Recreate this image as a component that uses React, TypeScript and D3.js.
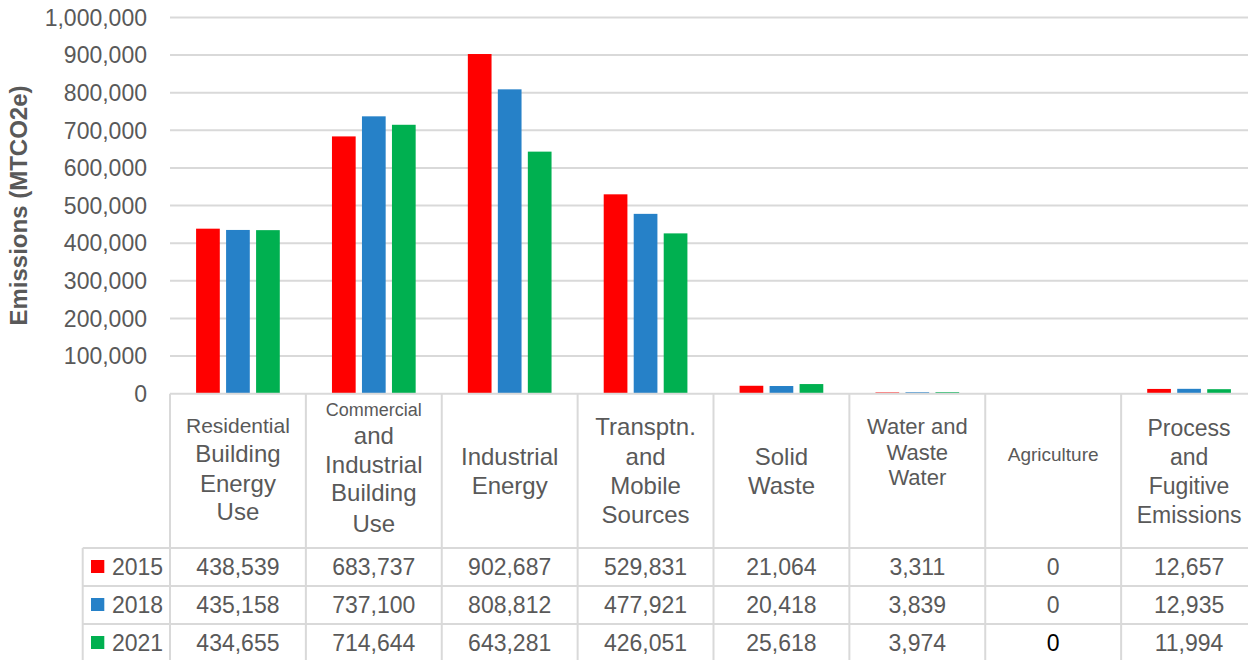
import React from "react";
import * as d3 from "d3";

const categories = [
  "Residential Building Energy Use",
  "Commercial and Industrial Building Use",
  "Industrial Energy",
  "Transptn. and Mobile Sources",
  "Solid Waste",
  "Water and Waste Water",
  "Agriculture",
  "Process and Fugitive Emissions",
];

const categoryLines = [
  ["Residential", "Building", "Energy", "Use"],
  ["Commercial", "and", "Industrial", "Building", "Use"],
  ["Industrial", "Energy"],
  ["Transptn.", "and", "Mobile", "Sources"],
  ["Solid", "Waste"],
  ["Water and", "Waste", "Water"],
  ["Agriculture"],
  ["Process", "and", "Fugitive", "Emissions"],
];

const years = ["2015", "2018", "2021"];

const values2015 = [438539, 683737, 902687, 529831, 21064, 3311, 0, 12657];
const values2018 = [435158, 737100, 808812, 477921, 20418, 3839, 0, 12935];
const values2021 = [434655, 714644, 643281, 426051, 25618, 3974, 0, 11994];

const yTicks = [0, 100000, 200000, 300000, 400000, 500000, 600000, 700000, 800000, 900000, 1000000];

const yAxisTitle = "Emissions (MTCO2e)";

// ---- styling / layout (not data) ----
const W = 1248;
const H = 660;
const COLORS = ["#FF0000", "#2681C8", "#00B050"];
const TEXT = "#595959";
const GRID = "#D9D9D9";
const FONT = "'Liberation Sans', Arial, sans-serif";

// per-column header line sizes and baselines
const headerLayout: { size: number; y: number }[][] = [
  [{ size: 21, y: 433 }, { size: 24, y: 462 }, { size: 24, y: 491.5 }, { size: 24, y: 520 }],
  [{ size: 18, y: 416 }, { size: 24, y: 443.5 }, { size: 24, y: 473 }, { size: 24, y: 500.5 }, { size: 24, y: 531.5 }],
  [{ size: 24, y: 465 }, { size: 24, y: 493.5 }],
  [{ size: 24, y: 435 }, { size: 24, y: 464.5 }, { size: 24, y: 493.5 }, { size: 24, y: 523 }],
  [{ size: 24, y: 465 }, { size: 24, y: 493.5 }],
  [{ size: 22, y: 433.5 }, { size: 22, y: 459.5 }, { size: 22, y: 485 }],
  [{ size: 19, y: 460.5 }],
  [{ size: 23, y: 436 }, { size: 23, y: 465 }, { size: 23, y: 493.5 }, { size: 23, y: 523 }],
];

export default function App() {
  const series = [values2015, values2018, values2021];

  const plotLeft = 170;
  const plotRight = 1257;
  const yZero = 393.7;
  const yTop = 17.4;

  const x = d3.scaleBand<string>().domain(categories).range([plotLeft, plotRight]).paddingInner(0).paddingOuter(0);
  const groupW = 83.7;
  const x1 = d3.scaleBand<string>().domain(years).range([0, groupW]).paddingInner(0.21).paddingOuter(0);
  const groupOffset = (x.bandwidth() - groupW) / 2;
  const y = d3.scaleLinear().domain([0, 1000000]).range([yZero, yTop]);
  const fmt = d3.format(",");

  const headerTop = yZero;
  const rowTops = [548, 586, 624];
  const rowH = 37.8;
  const legendLeft = 82.7;

  const boundaries = categories.map((c) => x(c) as number).concat([plotRight]);

  return (
    <svg
      width={W}
      height={H}
      style={{ position: "absolute", left: 0, top: 0, background: "#fff" }}
      fontFamily={FONT}
    >
      <rect x={0} y={0} width={W} height={H} fill="#fff" />
      {/* gridlines */}
      {yTicks.filter((t) => t > 0).map((t) => (
        <line key={t} x1={plotLeft} x2={plotRight} y1={y(t)} y2={y(t)} stroke={GRID} strokeWidth={2} />
      ))}
      {/* y tick labels */}
      {yTicks.map((t) => (
        <text key={t} x={147} y={y(t)} dy="0.36em" textAnchor="end" fontSize={23} fill={TEXT}>
          {fmt(t)}
        </text>
      ))}
      {/* axis title */}
      <text
        transform={`translate(${27},${(yZero + yTop) / 2}) rotate(-90)`}
        textAnchor="middle"
        fontSize={24}
        fontWeight="bold"
        fill={TEXT}
      >
        {yAxisTitle}
      </text>
      {/* bars */}
      {series.map((vals, si) =>
        vals.map((v, ci) => {
          const bx = (x(categories[ci]) as number) + groupOffset + (x1(years[si]) as number);
          return (
            <rect
              key={`${si}-${ci}`}
              x={bx}
              y={y(v)}
              width={x1.bandwidth()}
              height={yZero - y(v)}
              fill={COLORS[si]}
            />
          );
        })
      )}
      {/* table grid */}
      <line x1={plotLeft} x2={plotRight} y1={headerTop} y2={headerTop} stroke={GRID} strokeWidth={2} />
      {rowTops.map((r) => (
        <line key={r} x1={legendLeft} x2={plotRight} y1={r} y2={r} stroke={GRID} strokeWidth={2} />
      ))}
      <line x1={legendLeft} x2={legendLeft} y1={rowTops[0]} y2={H} stroke={GRID} strokeWidth={2} />
      {boundaries.map((b, i) => (
        <line key={i} x1={b} x2={b} y1={headerTop} y2={H} stroke={GRID} strokeWidth={2} />
      ))}
      {/* header labels */}
      {categoryLines.map((lines, ci) => {
        const cx = (x(categories[ci]) as number) + x.bandwidth() / 2;
        return lines.map((ln, li) => (
          <text
            key={`${ci}-${li}`}
            x={cx}
            y={headerLayout[ci][li].y}
            textAnchor="middle"
            fontSize={headerLayout[ci][li].size}
            fill={TEXT}
          >
            {ln}
          </text>
        ));
      })}
      {/* legend + values */}
      {years.map((yr, si) => (
        <g key={yr}>
          <rect x={91} y={rowTops[si] + 12} width={13.3} height={13} fill={COLORS[si]} />
          <text x={112} y={rowTops[si] + 27} fontSize={23} fill={TEXT}>
            {yr}
          </text>
          {series[si].map((v, ci) => (
            <text
              key={ci}
              x={(x(categories[ci]) as number) + x.bandwidth() / 2}
              y={rowTops[si] + 27}
              textAnchor="middle"
              fontSize={23}
              fill={si === 2 && categories[ci] === "Agriculture" ? "#000" : TEXT}
            >
              {fmt(v)}
            </text>
          ))}
        </g>
      ))}
    </svg>
  );
}
